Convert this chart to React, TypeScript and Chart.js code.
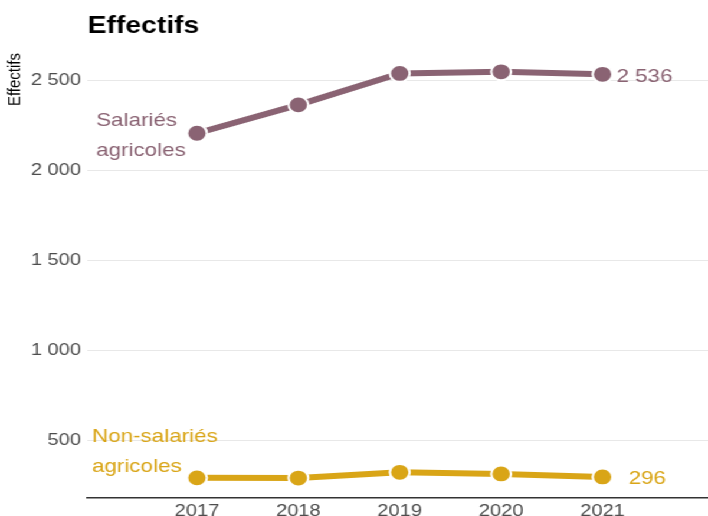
import React, { useEffect, useRef } from "react";
import { Chart, registerables } from "chart.js";

Chart.register(...registerables);

const years = [2017, 2018, 2019, 2020, 2021];
const salaries = [2208, 2366, 2541, 2550, 2536];
const nonSalaries = [291, 290, 322, 313, 296];
const yTicks = [500, 1000, 1500, 2000, 2500];
const chartTitle = "Effectifs";
const yTitle = "Effectifs";
const salLabel = ["Salariés", "agricoles"];
const nonSalLabel = ["Non-salariés", "agricoles"];

const PURPLE = "#8a6373";
const YELLOW = "#d9a517";
const FONT = "'Liberation Sans', Arial, sans-serif";
const STRETCH = 1.18;
const W = 600;
const H = 516;

const fmt = (v: number) => String(v).replace(/\B(?=(\d{3})+(?!\d))/g, " ");

const annotations = {
  id: "annotations",
  afterDatasetsDraw(chart: any) {
    const ctx = chart.ctx;
    const xs = chart.scales.x;
    const ys = chart.scales.y;
    ctx.save();
    ctx.textAlign = "left";
    ctx.textBaseline = "alphabetic";
    ctx.font = `19px ${FONT}`;

    const x0 = xs.getPixelForValue(years[0]);
    const xl = xs.getPixelForValue(years[years.length - 1]);

    // Salariés
    const ys0 = ys.getPixelForValue(salaries[0]);
    ctx.fillStyle = PURPLE;
    ctx.fillText(salLabel[0], x0 - 85.5, ys0 - 7.3);
    ctx.fillText(salLabel[1], x0 - 85.5, ys0 + 22.4);
    const ysl = ys.getPixelForValue(salaries[salaries.length - 1]);
    ctx.fillText(fmt(salaries[salaries.length - 1]), xl + 11.8, ysl + 7.4);

    // Non-salariés
    const yn0 = ys.getPixelForValue(nonSalaries[0]);
    ctx.fillStyle = YELLOW;
    ctx.fillText(nonSalLabel[0], x0 - 89, yn0 - 36);
    ctx.fillText(nonSalLabel[1], x0 - 89, yn0 - 6);
    const ynl = ys.getPixelForValue(nonSalaries[nonSalaries.length - 1]);
    ctx.fillText(fmt(nonSalaries[nonSalaries.length - 1]), xl + 22, ynl + 7.3);

    // Title
    ctx.fillStyle = "#000";
    ctx.font = `bold 24px ${FONT}`;
    ctx.fillText(chartTitle, chart.chartArea.left + 0.5, 33.3);

    // Y title
    ctx.font = `15px ${FONT}`;
    ctx.translate(13.1, 79.5);
    ctx.rotate(-Math.PI / 2);
    ctx.textAlign = "center";
    ctx.textBaseline = "middle";
    ctx.fillText(yTitle, 0, 0);
    ctx.restore();
  },
};

const zeroPad = (scale: any) => {
  scale.paddingLeft = 0;
  scale.paddingRight = 0;
  scale.paddingTop = 0;
  scale.paddingBottom = 0;
};

export default function App() {
  const ref = useRef<HTMLCanvasElement | null>(null);

  useEffect(() => {
    if (!ref.current) return;
    const chart = new Chart(ref.current, {
      type: "line",
      data: {
        datasets: [
          {
            label: "Salariés agricoles",
            data: years.map((y, i) => ({ x: y, y: salaries[i] })),
            borderColor: PURPLE,
            backgroundColor: PURPLE,
            borderWidth: 6,
            pointRadius: 8.4,
            pointBorderWidth: 2,
            pointBorderColor: "#ffffff",
            pointBackgroundColor: PURPLE,
            tension: 0,
            clip: false,
          },
          {
            label: "Non-salariés agricoles",
            data: years.map((y, i) => ({ x: y, y: nonSalaries[i] })),
            borderColor: YELLOW,
            backgroundColor: YELLOW,
            borderWidth: 6,
            pointRadius: 8.4,
            pointBorderWidth: 2,
            pointBorderColor: "#ffffff",
            pointBackgroundColor: YELLOW,
            tension: 0,
            clip: false,
          },
        ],
      },
      options: {
        responsive: false,
        animation: false,
        devicePixelRatio: 1,
        layout: { autoPadding: false, padding: { top: 45, left: 0, right: 0, bottom: 0 } },
        plugins: {
          legend: { display: false },
          title: { display: false },
          tooltip: { enabled: false },
        },
        scales: {
          x: {
            type: "linear",
            min: 2015.915,
            max: 2022.04,
            afterBuildTicks: (scale: any) => {
              scale.ticks = years.map((v) => ({ value: v }));
            },
            afterFit: (scale: any) => {
              scale.height = 18;
              zeroPad(scale);
            },
            grid: { display: false, drawTicks: false },
            border: { display: true, color: "#333333", width: 1.5 },
            ticks: {
              padding: 3,
              color: "#4d4d4d",
              font: { family: FONT, size: 17 },
              callback: (v: any) => String(v),
              maxRotation: 0,
            },
          },
          y: {
            type: "linear",
            min: 179,
            max: 2699,
            afterBuildTicks: (scale: any) => {
              scale.ticks = yTicks.map((v) => ({ value: v }));
            },
            afterFit: (scale: any) => {
              scale.width = 73.7;
              zeroPad(scale);
            },
            grid: { color: "#e8e8e8", lineWidth: 1, drawTicks: false },
            border: { display: false },
            ticks: {
              padding: 5,
              color: "#4d4d4d",
              font: { family: FONT, size: 17 },
              callback: (v: any) => fmt(Number(v)),
            },
          },
        },
      },
      plugins: [annotations],
    });
    return () => chart.destroy();
  }, []);

  return (
    <div
      style={{
        position: "fixed",
        left: 0,
        top: 0,
        width: W,
        height: H,
        transform: `scaleX(${STRETCH})`,
        transformOrigin: "0 0",
        background: "#fff",
      }}
    >
      <canvas ref={ref} width={W} height={H} style={{ width: W, height: H, display: "block" }} />
    </div>
  );
}
